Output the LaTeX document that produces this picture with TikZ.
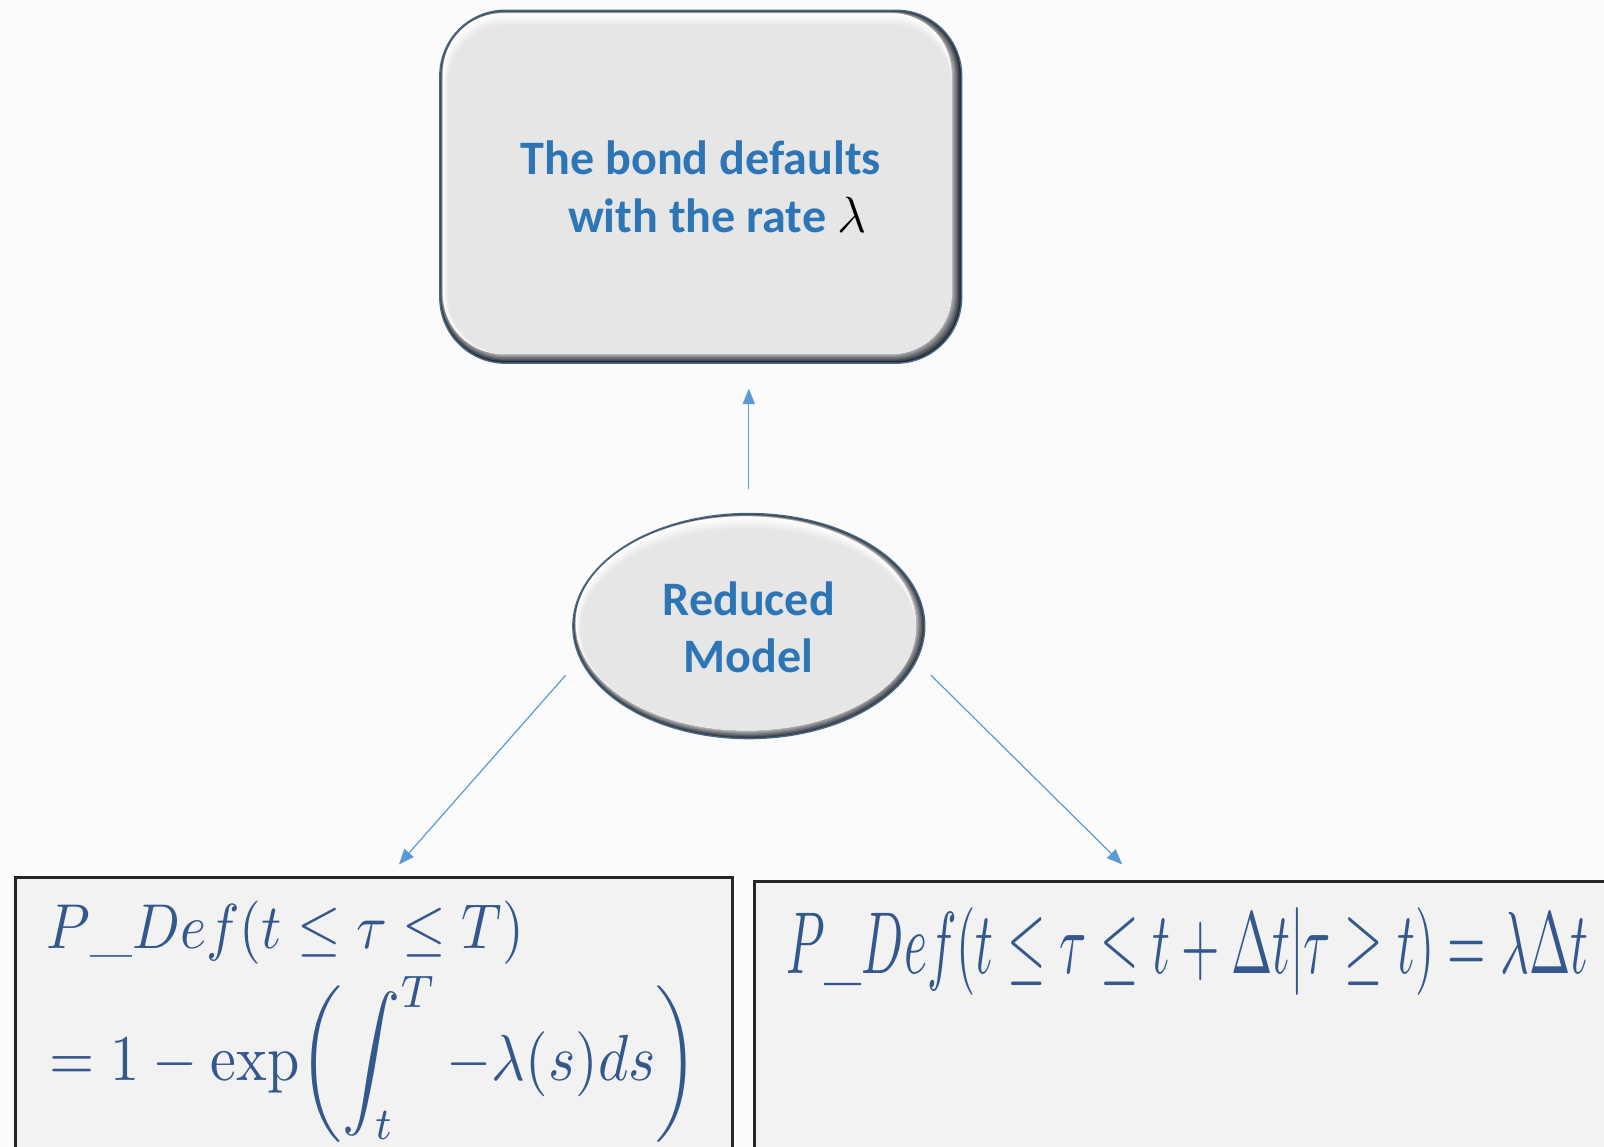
\documentclass[tikz,border=0pt]{standalone}
\usepackage{fontspec}
\usepackage{graphicx}
\newfontfamily\labelfont{Carlito}
\usetikzlibrary{arrows.meta,shapes.geometric}

\definecolor{labelblue}{RGB}{46,117,182}
\definecolor{arrowblue}{RGB}{91,155,213}
\definecolor{mathblue}{RGB}{52,88,140}
\definecolor{paper}{RGB}{251,251,251}
\definecolor{facegray}{RGB}{230,230,230}
\definecolor{rimblue}{RGB}{74,104,136}
\definecolor{rimdark}{RGB}{34,40,48}
\definecolor{boxfill}{RGB}{242,242,242}

\begin{document}
\begin{tikzpicture}[x=0.5pt,y=-0.5pt,
  label text/.style={font=\labelfont\bfseries\fontsize{23.5pt}{28pt}\selectfont,
    text=labelblue, align=center, inner sep=0pt},
  link/.style={draw=arrowblue, line width=0.6pt,
    -{Triangle[length=7.5pt,width=6pt]}},
  formula box/.style={draw=black!85, line width=1.5pt, fill=boxfill},
  formula/.style={text=mathblue, inner sep=0pt, anchor=north west},
  shape holder/.style={inner sep=0pt, outer sep=0pt, draw=none}]

% page
\fill[paper] (0,0) rectangle (1568,1121);
\useasboundingbox (0,0) rectangle (1568,1121);

\begin{scope}
\clip (0,0) rectangle (1568,1121);

% ---- bevelled rounded box: dark lower-right rim, light upper-left rim ----
\fill[rimdark, rounded corners=32pt] (430,10) rectangle (940,355);
\foreach \j in {0,...,6} {
  \pgfmathtruncatemacro\mix{85-12*\j}
  \fill[rimdark!\mix!facegray, rounded corners=31pt]
    (431+0.3*\j,11+0.3*\j) rectangle (938-1.3*\j,353-1.2*\j);
}
\foreach \i in {0,...,10} {
  \pgfmathtruncatemacro\mix{100-10*\i}
  \fill[white!\mix!facegray, rounded corners=29pt]
    (433+0.5*\i,13+1.2*\i) rectangle (930,345.8);
}
\draw[rimblue, line width=0.7pt, rounded corners=32pt] (430,10) rectangle (940,355);
\node[shape holder, minimum width=255pt, minimum height=172.5pt] (defaultbox) at (685,182.5) {};
\node[label text] (defaulttext) at (685,182.5)
  {The bond defaults\\\hspace*{16pt}with the rate {\color{black}$\lambda$}};

% ---- bevelled ellipse ----
\fill[rimdark] (732,612) ellipse [x radius=172, y radius=110];
\foreach \j in {0,...,6} {
  \pgfmathtruncatemacro\mix{85-12*\j}
  \fill[rimdark!\mix!facegray]
    (732-0.5*\j,612-0.45*\j) ellipse [x radius=171-0.8*\j, y radius=109-0.75*\j];
}
\foreach \i in {0,...,10} {
  \pgfmathtruncatemacro\mix{100-10*\i}
  \fill[white!\mix!facegray]
    (729+0.25*\i,609.3+0.6*\i) ellipse [x radius=166.2-0.25*\i, y radius=104.5-0.6*\i];
}
\draw[rimblue, line width=0.7pt] (732,612) ellipse [x radius=172, y radius=110];
\node[shape holder, ellipse, minimum width=172pt, minimum height=110pt] (model) at (732,612) {};
\node[label text] (modeltext) at (732,613) {Reduced\\Model};

% ---- formula boxes ----
\draw[formula box] (15,858) rectangle (716,1140);
\draw[formula box] (738,862) rectangle (1600,1140);

\node[formula] (cumfirst) at (45,880)
  {\resizebox*{233.5pt}{31pt}{$P\_Def(t\leq\tau\leq T)$}};
\node[formula] (cumsecond) at (48,954)
  {\resizebox*{317pt}{81pt}{$\displaystyle =1-\exp\biggl(\int_t^T-\lambda(s)ds\biggr)$}};
\node[formula] (hazard) at (768,887)
  {\resizebox*{392pt}{43pt}{$P\_Def(t\leq\tau\leq t+\Delta t|\tau\geq t)=\lambda\Delta t$}};

% ---- connectors ----
\coordinate (leftfrom) at (553,660);
\coordinate (leftto) at (390,845);
\coordinate (rightfrom) at (910,660);
\coordinate (rightto) at (1097,845);
\draw[link, shorten <=12pt, shorten >=12.5pt] (model.north) -- (model.north |- defaultbox.south);
\draw[link] (leftfrom) -- (leftto);
\draw[link] (rightfrom) -- (rightto);
\end{scope}
\end{tikzpicture}
\end{document}
